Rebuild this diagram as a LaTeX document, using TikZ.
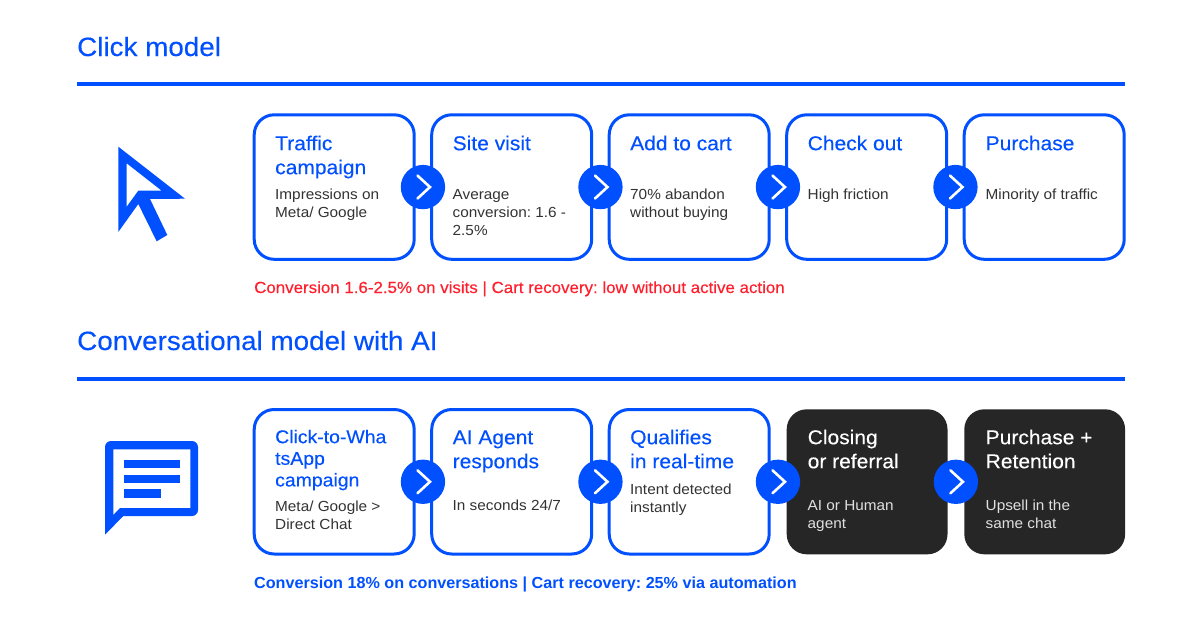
\documentclass[tikz,border=0pt]{standalone}
\usepackage{fontspec}
\setmainfont[FakeStretch=1.05]{Liberation Sans}
\newfontfamily\medfont[FakeStretch=1.05,FakeBold=0.25]{Liberation Sans}
\newfontfamily\semifont[FakeStretch=1.01]{Liberation Sans Bold}
\usetikzlibrary{calc}
\definecolor{bl}{HTML}{0050FF}
\definecolor{rd}{HTML}{FF1F2D}
\definecolor{dk}{HTML}{262626}
\definecolor{tx}{HTML}{333333}
\newcommand{\ttl}[1]{\rule{0pt}{16pt}#1}
\newcommand{\bdy}[1]{\rule{0pt}{12pt}#1}
\tikzset{
  card/.style={draw=bl,line width=3pt,fill=white,rounded corners=20pt,minimum width=160pt,minimum height=144.5pt,inner sep=0pt,outer sep=0pt,anchor=north west},
  darkcard/.style={fill=dk,rounded corners=20pt,minimum width=160.8pt,minimum height=145pt,inner sep=0pt,outer sep=0pt,anchor=north west},
  cardtitle/.style={anchor=north west,inner sep=0pt,align=left,text=bl,font=\medfont\fontsize{20}{24}\selectfont},
  cardbody/.style={anchor=north west,inner sep=0pt,align=left,text=tx,font=\fontsize{14.6}{18}\selectfont},
  darktitle/.style={cardtitle,text=white},
  darkbody/.style={cardbody,text=white!88!black},
  heading/.style={anchor=base west,inner sep=0pt,text=bl,font=\medfont\fontsize{26.5}{30}\selectfont},
  note/.style={anchor=base west,inner sep=0pt,font=\medfont\fontsize{16.1}{20}\selectfont},
  rulebar/.style={draw=bl,line width=4pt},
  hop/.style={circle,fill=bl,minimum size=44.3pt,inner sep=0pt,outer sep=0pt},
  chev/.style={draw=white,line width=2.6pt,line cap=round,line join=miter},
}
\newcommand{\hopbetween}[3]{%
  \node[hop] (#1) at ($(#2.east)!0.5!(#3.west)$) {};
  \draw[chev] ($(#1)+(-5.5,-11.5)$) -- ($(#1)+(7,0)$) -- ($(#1)+(-5.5,11.5)$);
}
\begin{document}
\frenchspacing
\begin{tikzpicture}[x=1pt,y=-1pt]
\useasboundingbox[fill=white] (0,0) rectangle (1201,629);
% Click model
\node[heading] (h1) at (77,56) {Click model};
\coordinate (r1a) at (77,84); \coordinate (r1b) at (1125,84);
\draw[rulebar] (r1a) -- (r1b);
\fill[bl,even odd rule] (118.3,146.7) -- (185,198.7) -- (150,199) -- (167.3,235) -- (156.7,241.3) -- (138.3,204) -- (118.3,232) -- cycle
  (126.7,163.3) -- (161.7,190.7) -- (138.3,190.7) -- (126.7,206.7) -- cycle;
\node[card] (a1) at (254.2,114.8) {};
\node[card] (a2) at (431.7,114.8) {};
\node[card] (a3) at (609.2,114.8) {};
\node[card] (a4) at (786.7,114.8) {};
\node[card] (a5) at (964.2,114.8) {};
\hopbetween{c1}{a1}{a2}
\hopbetween{c2}{a2}{a3}
\hopbetween{c3}{a3}{a4}
\hopbetween{c4}{a4}{a5}
\node[cardtitle] (a1t) at (275,134) {\ttl{Traffic}\\campaign};
\node[cardbody] (a1b) at (275,187) {\bdy{Impressions on}\\Meta/ Google};
\node[cardtitle] (a2t) at (452.5,134) {\ttl{Site visit}};
\node[cardbody] (a2b) at (452.5,187) {\bdy{Average}\\conversion: 1.6 -\\2.5\%};
\node[cardtitle] (a3t) at (630,134) {\ttl{Add to cart}};
\node[cardbody] (a3b) at (630,187) {\bdy{70\% abandon}\\without buying};
\node[cardtitle] (a4t) at (807.5,134) {\ttl{Check out}};
\node[cardbody] (a4b) at (807.5,187) {\bdy{High friction}};
\node[cardtitle] (a5t) at (985.5,134) {\ttl{Purchase}};
\node[cardbody] (a5b) at (985.5,187) {\bdy{Minority of traffic}};
\node[note,text=rd] (n1) at (254,293) {Conversion 1.6-2.5\% on visits | Cart recovery: low without active action};
% Conversational model
\node[heading] (h2) at (77,350) {Conversational model with AI};
\coordinate (r2a) at (77,378.5); \coordinate (r2b) at (1125,378.5);
\draw[rulebar] (r2a) -- (r2b);
\fill[bl,even odd rule] (105,447) .. controls (105,443.7) and (107.7,441) .. (111,441) -- (192,441) .. controls (195.3,441) and (198,443.7) .. (198,447) -- (198,510) .. controls (198,513.3) and (195.3,516) .. (192,516) -- (123.3,516) -- (105,534.7) -- cycle
  (113.3,449.3) -- (190.3,449.3) -- (190.3,508) -- (120,508) -- (113.3,515) -- cycle;
\fill[bl] (123.7,460) rectangle (180,468);
\fill[bl] (123.7,474.7) rectangle (180,482.7);
\fill[bl] (123.7,489.3) rectangle (161,497.7);
\node[card] (b1) at (254.2,409.5) {};
\node[card] (b2) at (431.7,409.5) {};
\node[card] (b3) at (609.2,409.5) {};
\node[darkcard] (b4) at (786.7,409.3) {};
\node[darkcard] (b5) at (964.3,409.3) {};
\hopbetween{d1}{b1}{b2}
\hopbetween{d2}{b2}{b3}
\hopbetween{d3}{b3}{b4}
\hopbetween{d4}{b4}{b5}
\node[cardtitle,font=\medfont\fontsize{18.5}{21.6}\selectfont] (b1t) at (275,427) {\ttl{Click-to-Wha}\\tsApp\\campaign};
\node[cardbody] (b1b) at (275,499) {\bdy{Meta/ Google >}\\Direct Chat};
\node[cardtitle] (b2t) at (452.5,428) {\ttl{AI Agent}\\responds};
\node[cardbody] (b2b) at (452.5,498) {\bdy{In seconds 24/7}};
\node[cardtitle] (b3t) at (630,428) {\ttl{Qualifies}\\in real-time};
\node[cardbody] (b3b) at (630,482) {\bdy{Intent detected}\\instantly};
\node[darktitle] (b4t) at (807.5,428) {\ttl{Closing}\\or referral};
\node[darkbody] (b4b) at (807.5,498) {\bdy{AI or Human}\\agent};
\node[darktitle] (b5t) at (985.5,428) {\ttl{Purchase +}\\Retention};
\node[darkbody] (b5b) at (985.5,498) {\bdy{Upsell in the}\\same chat};
\node[note,text=bl,font=\semifont\fontsize{16}{20}\selectfont] (n2) at (254,588) {Conversion 18\% on conversations | Cart recovery: 25\% via automation};
\end{tikzpicture}
\end{document}
